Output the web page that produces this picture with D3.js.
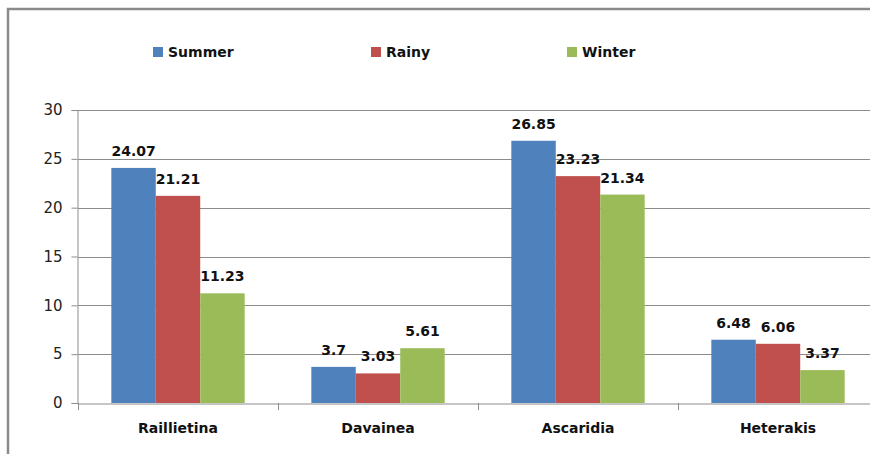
<!DOCTYPE html>
<html>
<head>
<meta charset="utf-8">
<script src="https://cdn.jsdelivr.net/npm/d3@7/dist/d3.min.js"></script>
<style>
  html, body { margin: 0; padding: 0; background: #fff; }
  svg { display: block; }
</style>
</head>
<body>
<svg id="chart" width="870" height="454"></svg>
<script>
// Parasite prevalence by season
const categories = ["Raillietina", "Davainea", "Ascaridia", "Heterakis"];
const seriesNames = ["Summer", "Rainy", "Winter"];
const summer = [24.07, 3.7, 26.85, 6.48];
const rainy  = [21.21, 3.03, 23.23, 6.06];
const winter = [11.23, 5.61, 21.34, 3.37];
const yTicks = [0, 5, 10, 15, 20, 25, 30];
const colors = ["#4F81BD", "#C0504D", "#9BBB59"];

const seriesValues = [summer, rainy, winter];

const svg = d3.select("#chart");
const plot = { left: 78, right: 878, top: 110, bottom: 403 };

// outer chart frame
svg.append("rect")
  .attr("x", 8).attr("y", 9)
  .attr("width", 900).attr("height", 480)
  .attr("fill", "#fff")
  .attr("stroke", "#8a8a8a")
  .attr("stroke-width", 2.5);

const x0 = d3.scaleBand()
  .domain(categories)
  .range([plot.left, plot.right])
  .paddingInner(0.3333)
  .paddingOuter(0.16667);
// full-width band per category for separators and names
const xCat = d3.scaleBand().domain(categories).range([plot.left, plot.right]);
const x1 = d3.scaleBand().domain(seriesNames).range([0, x0.bandwidth()]);
const y = d3.scaleLinear().domain([0, 30]).range([plot.bottom, plot.top]);

// horizontal gridlines
svg.append("g")
  .selectAll("line")
  .data(yTicks.filter(t => t > 0))
  .join("line")
  .attr("x1", plot.left).attr("x2", plot.right)
  .attr("y1", d => Math.round(y(d)) + 0.5).attr("y2", d => Math.round(y(d)) + 0.5)
  .attr("stroke", "#8c8c8c").attr("stroke-width", 1);

// y axis
const yAxis = d3.axisLeft(y).tickValues(yTicks).tickSize(6).tickPadding(9);
const gy = svg.append("g")
  .attr("transform", `translate(${plot.left - 0.5},0)`)
  .call(yAxis);
gy.select(".domain").attr("stroke", "#8c8c8c");
gy.selectAll(".tick line").attr("stroke", "#8c8c8c");
gy.selectAll(".tick text")
  .attr("fill", "#222")
  .style("font-family", "'DejaVu Sans', sans-serif")
  .style("font-size", "15px");

// bars
const groups = svg.append("g")
  .selectAll("g")
  .data(categories)
  .join("g")
  .attr("transform", d => `translate(${x0(d)},0)`);

groups.selectAll("rect")
  .data((c, i) => seriesNames.map((s, k) => ({ s, k, v: seriesValues[k][i] })))
  .join("rect")
  .attr("x", d => x1(d.s))
  .attr("y", d => y(d.v))
  .attr("width", x1.bandwidth())
  .attr("height", d => y(0) - y(d.v))
  .attr("fill", d => colors[d.k]);

// value labels
groups.selectAll("text")
  .data((c, i) => seriesNames.map((s, k) => ({ s, k, v: seriesValues[k][i] })))
  .join("text")
  .attr("x", d => x1(d.s) + x1.bandwidth() / 2)
  .attr("y", d => y(d.v) - 12)
  .attr("text-anchor", "middle")
  .attr("fill", "#111")
  .style("font-family", "'DejaVu Sans', sans-serif")
  .style("font-weight", "bold")
  .style("font-size", "14px")
  .text(d => String(d.v));

// x axis line
const xAxis = d3.axisBottom(xCat).tickSize(0).tickFormat("");
const gx = svg.append("g")
  .attr("transform", `translate(0,${Math.round(plot.bottom) + 0.5})`)
  .call(xAxis);
gx.select(".domain").attr("stroke", "#8c8c8c");
gx.selectAll(".tick").remove();

// category separators below axis
svg.append("g")
  .selectAll("line")
  .data(categories)
  .join("line")
  .attr("x1", d => Math.round(xCat(d)) + 0.5)
  .attr("x2", d => Math.round(xCat(d)) + 0.5)
  .attr("y1", plot.bottom).attr("y2", plot.bottom + 7)
  .attr("stroke", "#8c8c8c");

// category names
svg.append("g")
  .selectAll("text")
  .data(categories)
  .join("text")
  .attr("x", d => xCat(d) + xCat.bandwidth() / 2)
  .attr("y", 433)
  .attr("text-anchor", "middle")
  .attr("fill", "#111")
  .style("font-family", "'DejaVu Sans', sans-serif")
  .style("font-weight", "bold")
  .style("font-size", "14px")
  .text(d => d);

// legend
const legendX = [153, 371, 567];
const legend = svg.append("g")
  .selectAll("g")
  .data(seriesNames)
  .join("g")
  .attr("transform", (d, i) => `translate(${legendX[i]},0)`);
legend.append("rect")
  .attr("x", 0).attr("y", 47)
  .attr("width", 10).attr("height", 10)
  .attr("fill", (d, i) => colors[i]);
legend.append("text")
  .attr("x", 15).attr("y", 57)
  .attr("fill", "#111")
  .style("font-family", "'DejaVu Sans', sans-serif")
  .style("font-weight", "bold")
  .style("font-size", "14px")
  .text(d => d);
</script>
</body>
</html>
